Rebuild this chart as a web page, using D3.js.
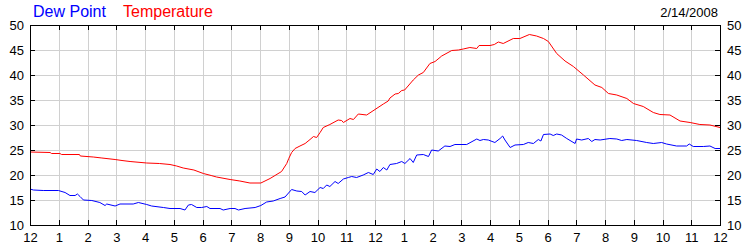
<!DOCTYPE html>
<html>
<head>
<meta charset="utf-8">
<script src="https://cdn.jsdelivr.net/npm/d3@7"></script>
<style>
  body { margin: 0; background: #fff; }
  svg { display: block; font-family: "Liberation Sans", Arial, sans-serif; }
</style>
</head>
<body>
<div id="main"></div>
<script>
// hours since midnight, values in degrees
const tempHours = [0, 0.7, 0.75, 1.04, 1.1, 1.72, 1.75, 2.2, 2.5, 2.96,
  3.2, 3.48, 4.06, 4.5, 4.87, 5.1, 5.33, 5.7, 6.03, 6.3,
  6.49, 6.96, 7.3, 7.65, 8.03, 8.35, 8.75, 8.93, 9.0, 9.1,
  9.22, 9.39, 9.57, 9.74, 9.86, 9.97, 10.09, 10.2, 10.43, 10.72,
  10.84, 10.9, 11.13, 11.25, 11.42, 11.71, 12.0, 12.29, 12.46, 12.52,
  12.7, 12.81, 12.93, 13.03, 13.33, 13.51, 13.68, 13.91, 14.09, 14.32,
  14.67, 14.9, 15.07, 15.3, 15.54, 15.62, 16.0, 16.15, 16.29, 16.46,
  16.81, 17.04, 17.37, 17.62, 17.86, 18.03, 18.32, 18.61, 18.9, 19.25,
  19.65, 19.89, 20.12, 20.41, 20.76, 20.99, 21.33, 21.68, 21.91, 22.26,
  22.61, 22.96, 23.3, 23.65, 24.0];
const tempValues = [24.6, 24.5, 24.3, 24.3, 24.1, 24.1, 23.8, 23.6, 23.4, 23.1,
  22.9, 22.7, 22.4, 22.3, 22.1, 21.8, 21.4, 21.0, 20.3, 19.9,
  19.6, 19.1, 18.8, 18.4, 18.4, 19.3, 20.7, 22.3, 23.3, 24.5,
  25.3, 25.8, 26.3, 27.1, 27.7, 27.5, 28.5, 29.5, 30.1, 31.0,
  30.9, 30.5, 31.3, 31.1, 32.2, 32.0, 33.1, 34.2, 34.8, 35.4,
  36.2, 36.3, 36.9, 37.0, 39.0, 40.0, 40.5, 42.3, 42.7, 43.8,
  44.9, 45.0, 45.2, 45.5, 45.3, 45.9, 45.9, 46.1, 46.6, 46.3,
  47.3, 47.3, 48.1, 47.8, 47.3, 46.7, 44.3, 42.8, 41.7, 40.0,
  38.0, 37.5, 36.3, 36.0, 35.3, 34.3, 33.7, 32.5, 32.1, 32.0,
  30.8, 30.5, 30.1, 30.0, 29.5];

const dewHours = [0, 0.12, 0.46, 0.99, 1.22, 1.39, 1.57, 1.65, 1.74, 1.86, 2.15, 2.43, 2.61, 2.67, 2.96, 3.13, 3.59, 3.77,
  4.06, 4.23, 4.64, 4.87, 5.22, 5.39, 5.51, 5.62, 5.8, 5.97, 6.15, 6.26, 6.61, 6.72, 6.96, 7.13, 7.25, 7.48, 7.83,
  8.03, 8.23, 8.46, 8.7, 8.87, 9.1, 9.28, 9.45, 9.57, 9.74, 9.91, 10.09, 10.2, 10.32, 10.43, 10.61, 10.72, 10.9,
  11.07, 11.19, 11.36, 11.59, 11.77, 11.94, 12.06, 12.17, 12.29, 12.41, 12.52, 12.75, 12.93, 13.04, 13.22, 13.33,
  13.45, 13.68, 13.86, 13.97, 14.2, 14.43, 14.61, 14.78, 15.19, 15.54, 15.65, 15.77, 15.94, 16.17, 16.35, 16.44,
  16.52, 16.7, 16.87, 17.16, 17.33, 17.51, 17.68, 17.77, 17.86, 18.09, 18.2, 18.32, 18.49, 18.67, 18.96, 19.01,
  19.19, 19.42, 19.54, 19.65, 19.83, 20.17, 20.41, 20.58, 20.76, 21.1, 21.45, 21.68, 21.97, 22.14, 22.49, 22.84,
  22.93, 23.07, 23.42, 23.65, 23.83, 24.0];
const dewValues = [17.2, 17.0, 16.9, 16.9, 16.5, 15.9, 15.9, 16.2, 15.7, 15.0, 14.9, 14.5, 13.9, 14.2, 13.8, 14.2, 14.2, 14.5,
  14.1, 13.8, 13.5, 13.3, 13.3, 13.0, 14.0, 14.1, 13.5, 13.5, 13.7, 13.3, 13.3, 13.0, 13.3, 13.3, 13.0, 13.3, 13.5,
  13.9, 14.6, 14.8, 15.3, 15.6, 17.1, 16.8, 16.7, 16.0, 16.7, 16.5, 17.5, 17.3, 18.0, 17.7, 18.7, 18.3, 19.2,
  19.5, 19.7, 19.5, 20.0, 20.5, 20.1, 21.2, 20.7, 21.5, 21.0, 22.1, 22.3, 22.7, 22.3, 23.3, 22.5,
  24.0, 24.1, 23.7, 25.0, 24.8, 25.8, 25.7, 26.1, 26.1, 27.2, 26.9, 27.1, 27.0, 26.5, 27.3, 27.8,
  27.0, 25.5, 26.0, 26.1, 26.5, 26.3, 27.1, 26.8, 28.1, 28.2, 27.9, 28.2, 28.0, 27.3, 26.3, 27.2,
  27.0, 27.3, 26.7, 27.1, 27.0, 27.3, 27.2, 26.9, 27.1, 26.9, 26.5, 26.3, 26.5, 26.2, 25.8, 25.8,
  26.2, 25.7, 25.7, 25.8, 25.3, 25.3];

const hourTicks = d3.range(0, 25);
const valueTicks = [10, 15, 20, 25, 30, 35, 40, 45, 50];
const dateLabel = "2/14/2008";

const W = 750, H = 250;
const margin = { top: 25, right: 30, bottom: 25, left: 30 };
const w = W - margin.left - margin.right;
const h = H - margin.top - margin.bottom;

const svg = d3.select("#main").append("svg")
  .attr("width", W)
  .attr("height", H);

const g = svg.append("g")
  .attr("transform", `translate(${margin.left},${margin.top})`);

const x = d3.scaleLinear().domain([0, 24]).range([0, w]);
const y = d3.scaleLinear().domain([10, 50]).range([h, 0]);

// grid
g.append("g")
  .attr("class", "grid")
  .attr("transform", `translate(0,${h})`)
  .call(d3.axisBottom(x).tickValues(hourTicks.slice(1, -1)).tickSize(-h).tickFormat(""));
g.append("g")
  .attr("class", "grid")
  .call(d3.axisLeft(y).tickValues(valueTicks.slice(1, -1)).tickSize(-w).tickFormat(""));
g.selectAll(".grid .domain").remove();
g.selectAll(".grid line")
  .attr("stroke", "#d0d0d0")
  .attr("shape-rendering", "crispEdges");

// lines
const line = d3.line()
  .x(d => x(d[0]))
  .y(d => y(d[1]));

g.append("path")
  .datum(dewHours.map((t, i) => [t, dewValues[i]]))
  .attr("fill", "none")
  .attr("stroke", "#0000ff")
  .attr("stroke-width", 1)
  .attr("d", line);

g.append("path")
  .datum(tempHours.map((t, i) => [t, tempValues[i]]))
  .attr("fill", "none")
  .attr("stroke", "#ff0000")
  .attr("stroke-width", 1)
  .attr("d", line);

// axes, ticks point inward
const hourFmt = d => String((d % 12) || 12);

const xBottom = g.append("g")
  .attr("transform", `translate(0,${h})`)
  .call(d3.axisBottom(x).tickValues(hourTicks).tickSize(-5).tickPadding(8).tickFormat(hourFmt));
const xTop = g.append("g")
  .call(d3.axisTop(x).tickValues(hourTicks).tickSize(-5).tickFormat(""));
const yLeft = g.append("g")
  .call(d3.axisLeft(y).tickValues(valueTicks).tickSize(-5).tickPadding(6));
const yRight = g.append("g")
  .attr("transform", `translate(${w},0)`)
  .call(d3.axisRight(y).tickValues(valueTicks).tickSize(-5).tickPadding(7));

[xBottom, xTop, yLeft, yRight].forEach(a => {
  a.select(".domain").remove();
  a.selectAll("line").attr("shape-rendering", "crispEdges");
  a.selectAll("text").attr("font-size", 13).attr("font-family", "Liberation Sans, Arial, sans-serif").attr("fill", "#000");
});

// frame
g.append("rect")
  .attr("x", 0)
  .attr("y", 0)
  .attr("width", w)
  .attr("height", h)
  .attr("fill", "none")
  .attr("stroke", "#000")
  .attr("shape-rendering", "crispEdges");

// legend and date
svg.append("text")
  .attr("x", 33)
  .attr("y", 17)
  .attr("font-size", 16)
  .attr("fill", "#0000ff")
  .text("Dew Point");
svg.append("text")
  .attr("x", 123)
  .attr("y", 17)
  .attr("font-size", 16)
  .attr("fill", "#ff0000")
  .text("Temperature");
svg.append("text")
  .attr("x", 718)
  .attr("y", 17)
  .attr("text-anchor", "end")
  .attr("font-size", 13)
  .attr("fill", "#000")
  .text(dateLabel);
</script>
</body>
</html>
